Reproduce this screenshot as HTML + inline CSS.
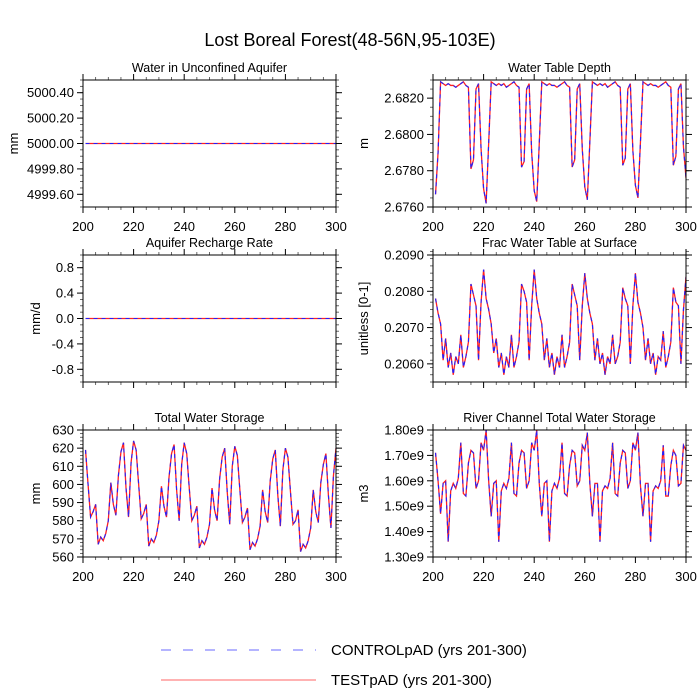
<!DOCTYPE html>
<html><head><meta charset="utf-8"><style>
html,body{margin:0;padding:0;background:#fff;}
svg{display:block;font-family:"Liberation Sans",sans-serif;}
</style></head><body>
<svg id="c" width="700" height="700" viewBox="0 0 700 700">
<text x="350" y="46" text-anchor="middle" font-size="18">Lost Boreal Forest(48-56N,95-103E)</text>
<g>
<line x1="161" y1="650" x2="316" y2="650" stroke="#6a6aff" stroke-width="1" stroke-dasharray="10,12"/>
<text x="331" y="655" font-size="15">CONTROLpAD (yrs 201-300)</text>
<line x1="161" y1="680" x2="316" y2="680" stroke="#ff6666" stroke-width="1"/>
<text x="331" y="685" font-size="15">TESTpAD (yrs 201-300)</text>
</g>
</svg>
<script>
const years = [];
for (let y = 201; y <= 300; y++) years.push(y);
const xTicks = [200,220,240,260,280,300];

const aquiferCtrl = new Array(100).fill(5000.0);
const rechargeCtrl = new Array(100).fill(0.0);
const wtdCtrl = [
2.6767,2.6790,2.6829,2.6828,2.6827,2.6828,2.6827,2.6827,2.6826,2.6827,2.6828,2.6829,2.6827,2.6826,2.6781,2.6786,2.6825,2.6828,2.6792,2.6770,
2.6762,2.6795,2.6829,2.6828,2.6827,2.6828,2.6827,2.6828,2.6826,2.6827,2.6828,2.6829,2.6827,2.6826,2.6782,2.6785,2.6825,2.6828,2.6790,2.6769,
2.6763,2.6795,2.6829,2.6828,2.6827,2.6828,2.6827,2.6827,2.6826,2.6827,2.6828,2.6829,2.6827,2.6826,2.6782,2.6786,2.6825,2.6828,2.6792,2.6771,
2.6764,2.6796,2.6829,2.6828,2.6827,2.6828,2.6827,2.6828,2.6826,2.6827,2.6828,2.6829,2.6827,2.6826,2.6783,2.6787,2.6825,2.6828,2.6791,2.6772,
2.6765,2.6796,2.6829,2.6828,2.6827,2.6828,2.6827,2.6827,2.6826,2.6827,2.6828,2.6829,2.6827,2.6826,2.6783,2.6788,2.6825,2.6828,2.6793,2.6776];
const fracCtrl = [
.2078,.2074,.2071,.2061,.2067,.2059,.2063,.2057,.2062,.2060,.2068,.2059,.2062,.2066,.2082,.2079,.2076,.2061,.2077,.2086,
.2078,.2075,.2071,.2063,.2067,.2059,.2063,.2057,.2062,.2059,.2068,.2059,.2062,.2066,.2082,.2080,.2077,.2061,.2076,.2086,
.2078,.2074,.2071,.2061,.2067,.2059,.2063,.2057,.2062,.2059,.2068,.2059,.2062,.2066,.2082,.2079,.2076,.2061,.2076,.2085,
.2078,.2074,.2071,.2061,.2067,.2060,.2063,.2057,.2062,.2060,.2068,.2060,.2062,.2066,.2081,.2078,.2076,.2060,.2076,.2085,
.2077,.2074,.2070,.2061,.2067,.2060,.2063,.2057,.2062,.2061,.2069,.2059,.2062,.2066,.2081,.2077,.2076,.2060,.2075,.2084];
const twsCtrl = [
619,600,582,585,589,567,571,569,573,580,601,589,583,605,618,623,598,582,612,624,
619,600,581,584,589,566,570,568,572,580,599,588,582,604,617,622,597,580,611,623,
617,598,580,583,588,565,569,567,571,578,598,586,580,603,615,620,596,578,610,621,
616,597,579,582,587,564,568,566,570,577,597,585,579,602,614,619,594,577,608,620,
615,596,578,580,586,563,567,565,569,576,597,585,579,601,611,617,594,576,605,620];
const riverCtrl = [
1.71e9,1.60e9,1.47e9,1.59e9,1.60e9,1.36e9,1.56e9,1.59e9,1.57e9,1.61e9,1.75e9,1.55e9,1.54e9,1.67e9,1.72e9,1.71e9,1.57e9,1.60e9,1.75e9,1.72e9,
1.80e9,1.60e9,1.46e9,1.59e9,1.60e9,1.36e9,1.56e9,1.59e9,1.57e9,1.61e9,1.75e9,1.55e9,1.54e9,1.67e9,1.72e9,1.71e9,1.57e9,1.60e9,1.75e9,1.72e9,
1.80e9,1.59e9,1.46e9,1.59e9,1.60e9,1.36e9,1.56e9,1.59e9,1.57e9,1.61e9,1.75e9,1.55e9,1.54e9,1.66e9,1.72e9,1.71e9,1.58e9,1.60e9,1.74e9,1.72e9,
1.79e9,1.59e9,1.46e9,1.59e9,1.59e9,1.36e9,1.56e9,1.58e9,1.57e9,1.61e9,1.75e9,1.55e9,1.54e9,1.67e9,1.72e9,1.71e9,1.57e9,1.60e9,1.75e9,1.72e9,
1.79e9,1.58e9,1.46e9,1.59e9,1.59e9,1.36e9,1.56e9,1.58e9,1.57e9,1.60e9,1.74e9,1.54e9,1.54e9,1.66e9,1.72e9,1.70e9,1.58e9,1.59e9,1.74e9,1.72e9];

const aquiferTest = aquiferCtrl.slice();
const rechargeTest = rechargeCtrl.slice();
const wtdTest = wtdCtrl.slice();
const fracTest = fracCtrl.slice();
const twsTest = twsCtrl.slice();
const riverTest = riverCtrl.slice();

const aquiferTicks = [4999.6,4999.8,5000.0,5000.2,5000.4];
const aquiferTickLabels = ["4999.60","4999.80","5000.00","5000.20","5000.40"];
const rechargeTicks = [-0.8,-0.4,0,0.4,0.8];
const rechargeTickLabels = ["-0.8","-0.4","0.0","0.4","0.8"];
const wtdTicks = [2.676,2.678,2.680,2.682];
const wtdTickLabels = ["2.6760","2.6780","2.6800","2.6820"];
const fracTicks = [0.206,0.207,0.208,0.209];
const fracTickLabels = ["0.2060","0.2070","0.2080","0.2090"];
const twsTicks = [560,570,580,590,600,610,620,630];
const twsTickLabels = ["560","570","580","590","600","610","620","630"];
const riverTicks = [1.3e9,1.4e9,1.5e9,1.6e9,1.7e9,1.8e9];
const riverTickLabels = ["1.30e9","1.40e9","1.50e9","1.60e9","1.70e9","1.80e9"];

const NS = "http://www.w3.org/2000/svg";
const svg = document.getElementById('c');
function mk(tag, attrs, parent) {
  const e = document.createElementNS(NS, tag);
  for (const k in attrs) e.setAttribute(k, attrs[k]);
  parent.appendChild(e);
  return e;
}

const panels = [
 {name:'aquifer', title:'Water in Unconfined Aquifer', ylab:'mm', x0:83, y0:80, ymin:4999.5, ymax:5000.5, ticks:aquiferTicks, labels:aquiferTickLabels, minor:0.05, ctrl:aquiferCtrl, test:aquiferTest, xl:true, ylx:14},
 {name:'wtd', title:'Water Table Depth', ylab:'m', x0:433, y0:80, ymin:2.676, ymax:2.683, ticks:wtdTicks, labels:wtdTickLabels, minor:0.0005, ctrl:wtdCtrl, test:wtdTest, xl:true, ylx:364},
 {name:'recharge', title:'Aquifer Recharge Rate', ylab:'mm/d', x0:83, y0:255, ymin:-1, ymax:1, ticks:rechargeTicks, labels:rechargeTickLabels, minor:0.1, ctrl:rechargeCtrl, test:rechargeTest, xl:false, ylx:36},
 {name:'frac', title:'Frac Water Table at Surface', ylab:'unitless [0-1]', x0:433, y0:255, ymin:0.2055, ymax:0.209, ticks:fracTicks, labels:fracTickLabels, minor:0.0002, ctrl:fracCtrl, test:fracTest, xl:false, ylx:364},
 {name:'tws', title:'Total Water Storage', ylab:'mm', x0:83, y0:430, ymin:560, ymax:630, ticks:twsTicks, labels:twsTickLabels, minor:2, ctrl:twsCtrl, test:twsTest, xl:true, ylx:36},
 {name:'river', title:'River Channel Total Water Storage', ylab:'m3', x0:433, y0:430, ymin:1.3e9, ymax:1.8e9, ticks:riverTicks, labels:riverTickLabels, minor:0.02e9, ctrl:riverCtrl, test:riverTest, xl:true, ylx:364}
];
const W = 253, H = 127;

panels.forEach(p => {
  const g = mk('g', {}, svg);
  
  
  const xs = v => p.x0 + (v - 200) / 100 * W;
  const ys = v => p.y0 + H - (v - p.ymin) / (p.ymax - p.ymin) * H;
  const t = mk('text', {x: p.x0 + W/2, y: p.y0 - 8, 'text-anchor':'middle', 'font-size':12.5}, g);
  t.textContent = p.title;
  
  
  const nMin = Math.round((p.ymax - p.ymin) / p.minor);
  for (let i = 0; i <= nMin; i++) {
    const yy = ys(p.ymin + i * p.minor);
    mk('line', {x1:p.x0-3, x2:p.x0, y1:yy, y2:yy, stroke:'#444', 'stroke-width':0.8}, g);
    mk('line', {x1:p.x0+W, x2:p.x0+W+3, y1:yy, y2:yy, stroke:'#444', 'stroke-width':0.8}, g);
  }
  p.ticks.forEach((v, i) => {
    const yy = ys(v);
    mk('line', {x1:p.x0-6, x2:p.x0, y1:yy, y2:yy, stroke:'#000', 'stroke-width':1}, g);
    mk('line', {x1:p.x0+W, x2:p.x0+W+6, y1:yy, y2:yy, stroke:'#000', 'stroke-width':1}, g);
    const tl = mk('text', {x:p.x0-9, y:yy+4.5, 'text-anchor':'end', 'font-size':13}, g);
    tl.textContent = p.labels[i];
    
    
  });
  for (let v = 200; v <= 300; v += 5) {
    const xx = xs(v);
    const major = v % 20 === 0;
    const L = major ? 6 : 3;
    mk('line', {x1:xx, x2:xx, y1:p.y0+H, y2:p.y0+H+L, stroke: major?'#000':'#444', 'stroke-width':major?1:0.8}, g);
    mk('line', {x1:xx, x2:xx, y1:p.y0-L, y2:p.y0, stroke: major?'#000':'#444', 'stroke-width':major?1:0.8}, g);
  }
  if (p.xl) xTicks.forEach(v => {
    const tl = mk('text', {x:xs(v), y:p.y0+H+24, 'text-anchor':'middle', 'font-size':13}, g);
    tl.textContent = String(v);
    
    
  });
  const yl = mk('text', {x:0, y:0, 'text-anchor':'middle', 'font-size':13, transform:`translate(${p.ylx+4},${p.y0+H/2}) rotate(-90)`}, g);
  yl.textContent = p.ylab;
  
  
  const clip = 'clip-' + p.name;
  const cp = mk('clipPath', {id: clip}, g);
  mk('rect', {x:p.x0, y:p.y0, width:W, height:H}, cp);
  const ptsT = p.test.map((v, i) => xs(years[i]).toFixed(2) + ',' + ys(v).toFixed(2)).join(' ');
  const ptsC = p.ctrl.map((v, i) => xs(years[i]).toFixed(2) + ',' + ys(v).toFixed(2)).join(' ');
  const lt = mk('polyline', {points:ptsT, fill:'none', stroke:'#ff2020', 'stroke-width':1.3, 'clip-path':`url(#${clip})`}, g);
  
  
  const lc = mk('polyline', {points:ptsC, fill:'none', stroke:'#2020ff', 'stroke-width':1.1, 'stroke-dasharray':'4,4', 'clip-path':`url(#${clip})`}, g);
  
  
  const fr = mk('rect', {x:p.x0, y:p.y0, width:W, height:H, fill:'none', stroke:'#000', 'stroke-width':1}, g);
  
  
});
</script>
</body></html>
